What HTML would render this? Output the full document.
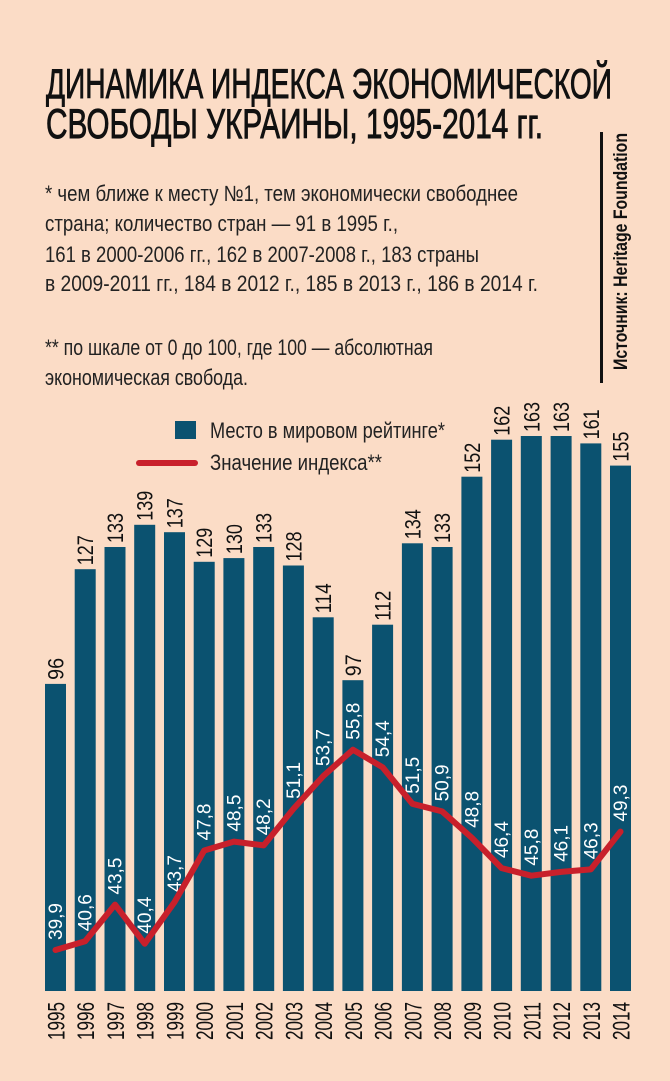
<!DOCTYPE html>
<html><head><meta charset="utf-8"><style>
html,body{margin:0;padding:0;background:#fbdcc6;}
svg{display:block;font-family:"Liberation Sans Narrow","Liberation Sans",sans-serif;}
</style></head><body>
<svg width="670" height="1081" viewBox="0 0 670 1081" xmlns="http://www.w3.org/2000/svg">
<rect width="670" height="1081" fill="#fbdcc6"/>
<g fill="#111">
<text x="46" y="98" font-size="42" stroke="#111" stroke-width="0.9" textLength="566" lengthAdjust="spacingAndGlyphs">ДИНАМИКА ИНДЕКСА ЭКОНОМИЧЕСКОЙ</text>
<text x="46" y="138" font-size="42" stroke="#111" stroke-width="0.9" textLength="497" lengthAdjust="spacingAndGlyphs">СВОБОДЫ УКРАИНЫ, 1995-2014 гг.</text>
<g font-size="22" fill="#222">
<text x="45" y="201" textLength="473" lengthAdjust="spacingAndGlyphs">* чем ближе к месту №1, тем экономически свободнее</text>
<text x="45" y="231" textLength="353" lengthAdjust="spacingAndGlyphs">страна; количество стран — 91  в 1995 г.,</text>
<text x="45" y="262" textLength="434" lengthAdjust="spacingAndGlyphs">161 в 2000-2006 гг.,  162 в 2007-2008 г., 183 страны</text>
<text x="45" y="291" textLength="493" lengthAdjust="spacingAndGlyphs">в 2009-2011 гг., 184 в 2012 г., 185 в 2013 г., 186 в 2014 г.</text>
<text x="45" y="355" textLength="388" lengthAdjust="spacingAndGlyphs">** по шкале от 0 до 100, где 100 — абсолютная</text>
<text x="45" y="385" textLength="203" lengthAdjust="spacingAndGlyphs">экономическая свобода.</text>
</g>
<rect x="600" y="132" width="3" height="251" fill="#111"/>
<text transform="translate(627,370) rotate(-90)" font-size="19" font-weight="bold" textLength="237" lengthAdjust="spacingAndGlyphs">Источник: Heritage Foundation</text>
<rect x="175" y="421" width="21" height="18" fill="#0b5270"/>
<text x="210" y="438" font-size="22" fill="#222" textLength="235" lengthAdjust="spacingAndGlyphs">Место в мировом рейтинге*</text>
<rect x="136" y="460" width="62" height="6" rx="3" fill="#c8202b"/>
<text x="210" y="470" font-size="22" fill="#222" textLength="172" lengthAdjust="spacingAndGlyphs">Значение индекса**</text>
</g>
<g fill="#0b5270">
<rect x="45" y="683.9" width="21" height="307.1"/>
<rect x="74.7" y="569.2" width="21" height="421.8"/>
<rect x="104.5" y="547" width="21" height="444"/>
<rect x="134.2" y="524.8" width="21" height="466.2"/>
<rect x="164" y="532.2" width="21" height="458.8"/>
<rect x="193.7" y="561.8" width="21" height="429.2"/>
<rect x="223.4" y="558.1" width="21" height="432.9"/>
<rect x="253.2" y="547" width="21" height="444"/>
<rect x="282.9" y="565.5" width="21" height="425.5"/>
<rect x="312.7" y="617.3" width="21" height="373.7"/>
<rect x="342.4" y="680.2" width="21" height="310.8"/>
<rect x="372.1" y="624.7" width="21" height="366.3"/>
<rect x="401.9" y="543.3" width="21" height="447.7"/>
<rect x="431.6" y="547" width="21" height="444"/>
<rect x="461.4" y="476.7" width="21" height="514.3"/>
<rect x="491.1" y="439.7" width="21" height="551.3"/>
<rect x="520.8" y="436" width="21" height="555"/>
<rect x="550.6" y="436" width="21" height="555"/>
<rect x="580.3" y="443.4" width="21" height="547.6"/>
<rect x="610" y="465.6" width="21" height="525.4"/>
</g>
<g font-size="22" fill="#111">
<text transform="translate(63.5,679.9) rotate(-90)" textLength="22" lengthAdjust="spacingAndGlyphs">96</text>
<text transform="translate(93.2,565.2) rotate(-90)" textLength="30" lengthAdjust="spacingAndGlyphs">127</text>
<text transform="translate(123,543) rotate(-90)" textLength="30" lengthAdjust="spacingAndGlyphs">133</text>
<text transform="translate(152.7,520.8) rotate(-90)" textLength="30" lengthAdjust="spacingAndGlyphs">139</text>
<text transform="translate(182.5,528.2) rotate(-90)" textLength="30" lengthAdjust="spacingAndGlyphs">137</text>
<text transform="translate(212.2,557.8) rotate(-90)" textLength="30" lengthAdjust="spacingAndGlyphs">129</text>
<text transform="translate(241.9,554.1) rotate(-90)" textLength="30" lengthAdjust="spacingAndGlyphs">130</text>
<text transform="translate(271.7,543) rotate(-90)" textLength="30" lengthAdjust="spacingAndGlyphs">133</text>
<text transform="translate(301.4,561.5) rotate(-90)" textLength="30" lengthAdjust="spacingAndGlyphs">128</text>
<text transform="translate(331.2,613.3) rotate(-90)" textLength="30" lengthAdjust="spacingAndGlyphs">114</text>
<text transform="translate(360.9,676.2) rotate(-90)" textLength="22" lengthAdjust="spacingAndGlyphs">97</text>
<text transform="translate(390.6,620.7) rotate(-90)" textLength="30" lengthAdjust="spacingAndGlyphs">112</text>
<text transform="translate(420.4,539.3) rotate(-90)" textLength="30" lengthAdjust="spacingAndGlyphs">134</text>
<text transform="translate(450.1,543) rotate(-90)" textLength="30" lengthAdjust="spacingAndGlyphs">133</text>
<text transform="translate(479.9,472.7) rotate(-90)" textLength="30" lengthAdjust="spacingAndGlyphs">152</text>
<text transform="translate(509.6,435.7) rotate(-90)" textLength="30" lengthAdjust="spacingAndGlyphs">162</text>
<text transform="translate(539.3,432) rotate(-90)" textLength="30" lengthAdjust="spacingAndGlyphs">163</text>
<text transform="translate(569.1,432) rotate(-90)" textLength="30" lengthAdjust="spacingAndGlyphs">163</text>
<text transform="translate(598.8,439.4) rotate(-90)" textLength="30" lengthAdjust="spacingAndGlyphs">161</text>
<text transform="translate(628.5,461.6) rotate(-90)" textLength="30" lengthAdjust="spacingAndGlyphs">155</text>
</g>
<g font-size="24" fill="#111">
<text transform="translate(64.5,1040) rotate(-90)" textLength="38" lengthAdjust="spacingAndGlyphs">1995</text>
<text transform="translate(94.2,1040) rotate(-90)" textLength="38" lengthAdjust="spacingAndGlyphs">1996</text>
<text transform="translate(124,1040) rotate(-90)" textLength="38" lengthAdjust="spacingAndGlyphs">1997</text>
<text transform="translate(153.7,1040) rotate(-90)" textLength="38" lengthAdjust="spacingAndGlyphs">1998</text>
<text transform="translate(183.5,1040) rotate(-90)" textLength="38" lengthAdjust="spacingAndGlyphs">1999</text>
<text transform="translate(213.2,1040) rotate(-90)" textLength="38" lengthAdjust="spacingAndGlyphs">2000</text>
<text transform="translate(242.9,1040) rotate(-90)" textLength="38" lengthAdjust="spacingAndGlyphs">2001</text>
<text transform="translate(272.7,1040) rotate(-90)" textLength="38" lengthAdjust="spacingAndGlyphs">2002</text>
<text transform="translate(302.4,1040) rotate(-90)" textLength="38" lengthAdjust="spacingAndGlyphs">2003</text>
<text transform="translate(332.2,1040) rotate(-90)" textLength="38" lengthAdjust="spacingAndGlyphs">2004</text>
<text transform="translate(361.9,1040) rotate(-90)" textLength="38" lengthAdjust="spacingAndGlyphs">2005</text>
<text transform="translate(391.6,1040) rotate(-90)" textLength="38" lengthAdjust="spacingAndGlyphs">2006</text>
<text transform="translate(421.4,1040) rotate(-90)" textLength="38" lengthAdjust="spacingAndGlyphs">2007</text>
<text transform="translate(451.1,1040) rotate(-90)" textLength="38" lengthAdjust="spacingAndGlyphs">2008</text>
<text transform="translate(480.9,1040) rotate(-90)" textLength="38" lengthAdjust="spacingAndGlyphs">2009</text>
<text transform="translate(510.6,1040) rotate(-90)" textLength="38" lengthAdjust="spacingAndGlyphs">2010</text>
<text transform="translate(540.3,1040) rotate(-90)" textLength="38" lengthAdjust="spacingAndGlyphs">2011</text>
<text transform="translate(570.1,1040) rotate(-90)" textLength="38" lengthAdjust="spacingAndGlyphs">2012</text>
<text transform="translate(599.8,1040) rotate(-90)" textLength="38" lengthAdjust="spacingAndGlyphs">2013</text>
<text transform="translate(629.5,1040) rotate(-90)" textLength="38" lengthAdjust="spacingAndGlyphs">2014</text>
</g>
<g font-size="19" fill="#ffffff">
<text transform="translate(62,940) rotate(-90)" textLength="37" lengthAdjust="spacingAndGlyphs">39,9</text>
<text transform="translate(91.7,931.2) rotate(-90)" textLength="37" lengthAdjust="spacingAndGlyphs">40,6</text>
<text transform="translate(121.5,894.6) rotate(-90)" textLength="37" lengthAdjust="spacingAndGlyphs">43,5</text>
<text transform="translate(151.2,933.7) rotate(-90)" textLength="37" lengthAdjust="spacingAndGlyphs">40,4</text>
<text transform="translate(181,892.1) rotate(-90)" textLength="37" lengthAdjust="spacingAndGlyphs">43,7</text>
<text transform="translate(210.7,840.5) rotate(-90)" textLength="37" lengthAdjust="spacingAndGlyphs">47,8</text>
<text transform="translate(240.4,831.6) rotate(-90)" textLength="37" lengthAdjust="spacingAndGlyphs">48,5</text>
<text transform="translate(270.2,835.4) rotate(-90)" textLength="37" lengthAdjust="spacingAndGlyphs">48,2</text>
<text transform="translate(299.9,798.9) rotate(-90)" textLength="37" lengthAdjust="spacingAndGlyphs">51,1</text>
<text transform="translate(329.7,766.1) rotate(-90)" textLength="37" lengthAdjust="spacingAndGlyphs">53,7</text>
<text transform="translate(359.4,739.7) rotate(-90)" textLength="37" lengthAdjust="spacingAndGlyphs">55,8</text>
<text transform="translate(389.1,757.3) rotate(-90)" textLength="37" lengthAdjust="spacingAndGlyphs">54,4</text>
<text transform="translate(418.9,793.8) rotate(-90)" textLength="37" lengthAdjust="spacingAndGlyphs">51,5</text>
<text transform="translate(448.6,801.4) rotate(-90)" textLength="37" lengthAdjust="spacingAndGlyphs">50,9</text>
<text transform="translate(478.4,827.9) rotate(-90)" textLength="37" lengthAdjust="spacingAndGlyphs">48,8</text>
<text transform="translate(508.1,858.1) rotate(-90)" textLength="37" lengthAdjust="spacingAndGlyphs">46,4</text>
<text transform="translate(537.8,865.7) rotate(-90)" textLength="37" lengthAdjust="spacingAndGlyphs">45,8</text>
<text transform="translate(567.6,861.9) rotate(-90)" textLength="37" lengthAdjust="spacingAndGlyphs">46,1</text>
<text transform="translate(597.3,859.4) rotate(-90)" textLength="37" lengthAdjust="spacingAndGlyphs">46,3</text>
<text transform="translate(627,821.6) rotate(-90)" textLength="37" lengthAdjust="spacingAndGlyphs">49,3</text>
</g>
<polyline fill="none" stroke="#c8202b" stroke-width="6" stroke-linejoin="round" stroke-linecap="round"
points="55.5,950 85.2,941.2 115,904.6 144.7,943.7 174.5,902.1 204.2,850.5 233.9,841.6 263.7,845.4 293.4,808.9 323.2,776.1 352.9,749.7 382.6,767.3 412.4,803.8 442.1,811.4 471.9,837.9 501.6,868.1 531.3,875.7 561.1,871.9 590.8,869.4 620.5,831.6"/>
</svg>
</body></html>
